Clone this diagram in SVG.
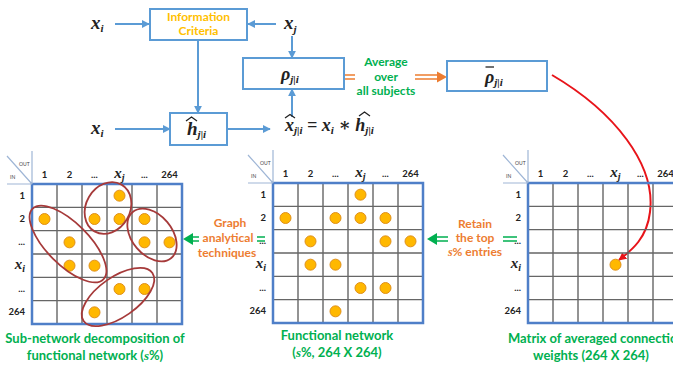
<svg xmlns="http://www.w3.org/2000/svg" xmlns:xlink="http://www.w3.org/1999/xlink" width="673" height="366" viewBox="0 0 673 366">
<style>
.box{fill:#fff;stroke:#5B9BD5;stroke-width:2}
.blu{stroke:#5B9BD5;stroke-width:2;fill:none}
.m{font-family:"Liberation Serif","DejaVu Serif",serif;font-weight:bold;font-style:italic;fill:#222}
.sub{font-size:11px}
.lbl{font-family:Lato,"Liberation Sans",sans-serif;font-weight:bold}
.org{fill:#ED7D31;font-size:12px}
.grn{fill:#00B050;font-size:13px}
.hd{font-family:Lato,"Liberation Sans",sans-serif;font-weight:bold;font-size:9.5px;fill:#222}
.cn{font-family:Lato,"Liberation Sans",sans-serif;font-size:5px;fill:#444}
.gl{stroke:#666;stroke-width:1.4}
.ob{fill:none;stroke:#4F7FC8;stroke-width:2.5}
.dot{fill:#FFB800;stroke:#E0901A;stroke-width:1}
.ell{fill:none;stroke:#A63A3A;stroke-width:1.8}
.dbl{stroke-width:1.6;fill:none}
</style>
<defs>
<marker id="ah" viewBox="0 0 10 10" refX="9" refY="5" markerWidth="4" markerHeight="4" orient="auto"><path d="M0,0 L10,5 L0,10 z" fill="#5B9BD5"/></marker>
<marker id="rh" viewBox="0 0 10 10" refX="9" refY="5" markerWidth="4" markerHeight="4" orient="auto"><path d="M0,0 L10,5 L0,10 z" fill="#E8141A"/></marker>
<g id="grid">
<path class="gl" d="M25,0V140M50,0V140M75,0V140M100,0V140M125,0V140M0,23.33H150M0,46.67H150M0,70H150M0,93.33H150M0,116.67H150"/>
<rect class="ob" x="0" y="0" width="150" height="140"/>
<path d="M-25,0H0M0,-33V0M-25,-28L0,0" stroke="#9FB6D6" stroke-width="1.2" fill="none"/>
<text class="cn" x="-13" y="-18">OUT</text>
<text class="cn" x="-22" y="-5">IN</text>
<g class="hd" text-anchor="middle">
<text x="12.5" y="-6">1</text><text x="37.5" y="-6">2</text><text x="62.5" y="-6">...</text><text x="112.5" y="-6">...</text><text x="137.5" y="-6">264</text>
</g>
<text class="m" x="87.5" y="-6" text-anchor="middle" font-size="15">x<tspan font-size="10" dy="3">j</tspan></text>
<g class="hd" text-anchor="end">
<text x="-7" y="15">1</text><text x="-7" y="38">2</text><text x="-7" y="61">...</text><text x="-7" y="108">...</text><text x="-7" y="131">264</text>
</g>
<text class="m" x="-7" y="85" text-anchor="end" font-size="15">x<tspan font-size="10" dy="3">i</tspan></text>
</g>
<g id="dots">
<circle class="dot" cx="87.5" cy="11.67" r="5.5"/>
<circle class="dot" cx="12.5" cy="35" r="5.5"/>
<circle class="dot" cx="62.5" cy="35" r="5.5"/>
<circle class="dot" cx="87.5" cy="35" r="5.5"/>
<circle class="dot" cx="112.5" cy="35" r="5.5"/>
<circle class="dot" cx="37.5" cy="58.33" r="5.5"/>
<circle class="dot" cx="112.5" cy="58.33" r="5.5"/>
<circle class="dot" cx="137.5" cy="58.33" r="5.5"/>
<circle class="dot" cx="37.5" cy="81.67" r="5.5"/>
<circle class="dot" cx="62.5" cy="81.67" r="5.5"/>
<circle class="dot" cx="87.5" cy="105" r="5.5"/>
<circle class="dot" cx="112.5" cy="105" r="5.5"/>
<circle class="dot" cx="62.5" cy="128.33" r="5.5"/>
</g>
</defs>
<rect width="673" height="366" fill="#fff"/>

<g id="connectors">
<line class="blu" x1="115" y1="24" x2="149" y2="24" marker-end="url(#ah)"/>
<line class="blu" x1="276" y1="24" x2="248" y2="24" marker-end="url(#ah)"/>
<line class="blu" x1="292" y1="36" x2="292" y2="58" marker-end="url(#ah)"/>
<line class="blu" x1="198" y1="40" x2="198" y2="113" marker-end="url(#ah)"/>
<line class="blu" x1="115" y1="129" x2="170" y2="129" marker-end="url(#ah)"/>
<line class="blu" x1="227" y1="129" x2="270" y2="129" marker-end="url(#ah)"/>
<line class="blu" x1="292" y1="117" x2="292" y2="89" marker-end="url(#ah)"/>
<path class="dbl" stroke="#ED7D31" d="M344,75H355M344,79H355"/>
<path class="dbl" stroke="#ED7D31" d="M415,75H440M415,79H440"/>
<path d="M447,77 L437,71.5 L437,82.5 z" fill="#ED7D31"/>
<path d="M552,75 C615,112 656,165 650,212 C647,238 632,250 619,260" fill="none" stroke="#E8141A" stroke-width="2" marker-end="url(#rh)"/>
<path class="dbl" stroke="#00B050" d="M190,237H199M190,241H199M257,237H265M257,241H265"/>
<path d="M183,239 L193,233 L193,245 z" fill="#00B050"/>
<path class="dbl" stroke="#00B050" d="M434,237H448M434,241H448M503,237H517M503,241H517"/>
<path d="M427,239 L437,233 L437,245 z" fill="#00B050"/>
</g>

<g id="xi-top"><text class="m" x="91" y="29" font-size="19">x<tspan class="sub" dy="3">i</tspan></text></g>
<g id="xj-top"><text class="m" x="284" y="29" font-size="19">x<tspan class="sub" dy="4">j</tspan></text></g>
<g id="xi-bottom"><text class="m" x="91" y="134" font-size="19">x<tspan class="sub" dy="3">i</tspan></text></g>

<g id="info-criteria">
<rect class="box" x="150" y="9" width="97" height="31"/>
<text class="lbl" x="198.5" y="21" text-anchor="middle" font-size="12" fill="#FFC000">Information</text>
<text class="lbl" x="198.5" y="35" text-anchor="middle" font-size="12" fill="#FFC000">Criteria</text>
</g>

<g id="rho">
<rect class="box" x="243" y="58" width="101" height="31"/>
<text class="m" x="281" y="80" font-size="18">ρ<tspan class="sub" dy="3">j|i</tspan></text>
</g>

<g id="h-hat">
<rect class="box" x="170" y="113" width="57" height="32"/>
<text class="m" x="187" y="135" font-size="19">h<tspan class="sub" dy="3">j|i</tspan></text>
<path d="M186,121 L191.5,117 L197,121" fill="none" stroke="#222" stroke-width="1.3"/>
</g>

<g id="equation">
<text class="m" x="285" y="131" font-size="18">x<tspan class="sub" dy="3">j|i</tspan><tspan dy="-3"> = x</tspan><tspan class="sub" dy="3">i</tspan><tspan dy="-3"> ∗ h</tspan><tspan class="sub" dy="3">j|i</tspan></text>
<path d="M285,118 L290,114.5 L295,118" fill="none" stroke="#222" stroke-width="1.3"/>
<path d="M359,116 L364.5,112 L370,116" fill="none" stroke="#222" stroke-width="1.3"/>
</g>

<g id="average-label">
<text class="lbl" fill="#00B050" x="386" y="66" text-anchor="middle" font-size="12">Average</text>
<text class="lbl" fill="#00B050" x="386" y="81" text-anchor="middle" font-size="12">over</text>
<text class="lbl" fill="#00B050" x="386" y="95" text-anchor="middle" font-size="12">all subjects</text>
</g>

<g id="rho-bar">
<rect class="box" x="447" y="61" width="100" height="30"/>
<text class="m" x="485" y="83" font-size="18">ρ<tspan class="sub" dy="3">j|i</tspan></text>
<path d="M485.5,67H494" stroke="#222" stroke-width="1.3"/>
</g>

<g id="graph-label">
<text class="lbl org" x="230" y="227" text-anchor="middle">Graph</text>
<text class="lbl org" x="228" y="242" text-anchor="middle">analytical</text>
<text class="lbl org" x="227" y="257" text-anchor="middle">techniques</text>
</g>

<g id="retain-label">
<text class="lbl org" x="475" y="228" text-anchor="middle">Retain</text>
<text class="lbl org" x="475" y="242" text-anchor="middle">the top</text>
<text class="lbl org" x="475" y="256" text-anchor="middle"><tspan font-family="Liberation Serif,serif" font-style="italic">s</tspan>% entries</text>
</g>

<g id="matrix-subnetwork">
<use xlink:href="#grid" transform="translate(32,184)"/>
<use xlink:href="#dots" transform="translate(32,184)"/>
<ellipse class="ell" cx="0" cy="0" rx="27" ry="22" transform="translate(108,208) rotate(-60)"/>
<ellipse class="ell" cx="0" cy="0" rx="50" ry="21" transform="translate(68,244) rotate(45)"/>
<ellipse class="ell" cx="0" cy="0" rx="30" ry="20" transform="translate(152,235) rotate(50)"/>
<ellipse class="ell" cx="0" cy="0" rx="42" ry="20" transform="translate(118,297) rotate(-35)"/>
<text class="lbl grn" x="95" y="343" text-anchor="middle">Sub-network decomposition of</text>
<text class="lbl grn" x="95" y="360" text-anchor="middle">functional network (<tspan font-family="Liberation Serif,serif" font-style="italic">s</tspan>%)</text>
</g>

<g id="matrix-functional">
<use xlink:href="#grid" transform="translate(273,183)"/>
<use xlink:href="#dots" transform="translate(273,183)"/>
<text class="lbl grn" x="337" y="340" text-anchor="middle">Functional network</text>
<text class="lbl grn" x="337" y="357" text-anchor="middle">(<tspan font-family="Liberation Serif,serif" font-style="italic">s</tspan>%, 264 X 264)</text>
</g>

<g id="matrix-averaged">
<use xlink:href="#grid" transform="translate(528,183)"/>
<circle class="dot" cx="615.5" cy="264.7" r="5.5"/>
<text class="lbl grn" x="508" y="343">Matrix of averaged connection</text>
<text class="lbl grn" x="591" y="360" text-anchor="middle">weights (264 X 264)</text>
</g>
</svg>
